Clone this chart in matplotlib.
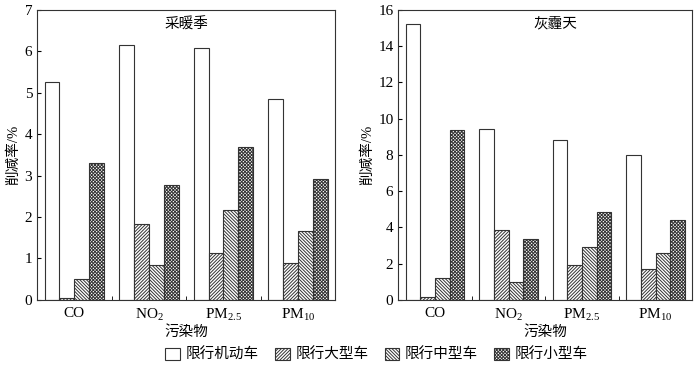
import numpy as np
import matplotlib
matplotlib.use("Agg")
import matplotlib.pyplot as plt

plt.rcParams['font.family'] = ['Liberation Serif', 'Noto Sans CJK SC']
plt.rcParams['mathtext.fontset'] = 'custom'
plt.rcParams['mathtext.rm'] = 'Liberation Serif'
plt.rcParams['mathtext.it'] = 'Liberation Serif'
plt.rcParams['mathtext.default'] = 'rm'
plt.rcParams['hatch.linewidth'] = 0.7

pollutants = ['CO', 'NO$_2$', 'PM$_{2.5}$', 'PM$_{10}$']
series = ['限行机动车', '限行大型车', '限行中型车', '限行小型车']

heating = {
    '限行机动车': [5.25, 6.15, 6.08, 4.85],
    '限行大型车': [0.05, 1.82, 1.13, 0.88],
    '限行中型车': [0.50, 0.85, 2.17, 1.67],
    '限行小型车': [3.30, 2.77, 3.68, 2.92],
}
haze = {
    '限行机动车': [15.2, 9.42, 8.82, 8.02],
    '限行大型车': [0.15, 3.85, 1.90, 1.70],
    '限行中型车': [1.20, 1.00, 2.90, 2.57],
    '限行小型车': [9.40, 3.37, 4.87, 4.40],
}

hatches = ['', '/' * 10, '\\' * 10, 'x' * 10]
edge = '#333333'


def draw(ax, data, title, ymax, ystep):
    x = np.arange(len(pollutants))
    w = 0.2
    handles = []
    for i, s in enumerate(series):
        b = ax.bar(x - 0.3 + i * w, data[s], w, color='white', edgecolor=edge,
                   linewidth=0.8, hatch=hatches[i], label=s)
        handles.append(b)
    ax.set_xlim(-0.5, len(pollutants) - 0.5)
    ax.set_ylim(0, ymax)
    ax.set_yticks(np.arange(0, ymax + 0.01, ystep))
    ax.set_xticks(x)
    ax.set_xticklabels(pollutants, fontsize=11)
    ax.set_xticks(x[:-1] + 0.5, minor=True)
    ax.tick_params(axis='x', which='major', length=0, pad=5)
    ax.tick_params(axis='x', which='minor', direction='in', length=3)
    ax.tick_params(axis='y', direction='in', length=3, labelsize=11)
    for sp in ax.spines.values():
        sp.set_color(edge)
        sp.set_linewidth(0.8)
    ax.set_xlabel('污染物', fontsize=10.5, labelpad=2)
    ax.set_ylabel('削减率/%', fontsize=10.5, labelpad=3)
    ax.text(0.5, 0.975, title, transform=ax.transAxes, ha='center', va='top',
            fontsize=10.5)
    return handles


fig = plt.figure(figsize=(7, 3.67), dpi=100)
ax1 = fig.add_axes([0.053, 0.183, 0.426, 0.790])
ax2 = fig.add_axes([0.569, 0.183, 0.420, 0.790])

h = draw(ax1, heating, '采暖季', 7, 1)
draw(ax2, haze, '灰霾天', 16, 2)
ax2.texts[0].set_x(0.535)

fig.legend(handles=h, labels=series, loc='center', bbox_to_anchor=(0.538, 0.033),
           ncol=4, frameon=False, fontsize=10.5, handlelength=1.0,
           handleheight=0.9, handletextpad=0.4, columnspacing=1.1)

fig.savefig('out.png', dpi=100)
